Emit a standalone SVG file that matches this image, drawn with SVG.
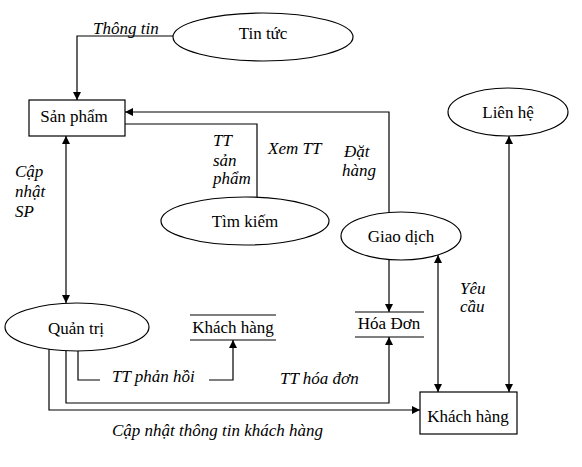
<svg xmlns="http://www.w3.org/2000/svg" width="582" height="467" viewBox="0 0 582 467">
<style>
.shape{fill:#fff;stroke:#000;stroke-width:1.2}
.ln{fill:none;stroke:#000;stroke-width:1.2}
.t{font-family:"Liberation Serif","Times New Roman",serif;font-size:17px;fill:#000}
.c{text-anchor:middle}
.i{font-style:italic}
</style>
<defs>
<marker id="ah" viewBox="0 0 10 10" refX="10" refY="5" markerWidth="9" markerHeight="8" markerUnits="userSpaceOnUse" orient="auto-start-reverse">
<path d="M0,0 L10,5 L0,10 z" fill="#000"/>
</marker>
</defs>
<rect width="582" height="467" fill="#fff"/>
<g id="connectors">
<path class="ln" d="M173,36 H77 V100" marker-end="url(#ah)"/>
<path class="ln" d="M389,212 V112 H125" marker-end="url(#ah)"/>
<path class="ln" d="M125,124 H257 V197"/>
<path class="ln" d="M66,136 V303" marker-start="url(#ah)" marker-end="url(#ah)"/>
<path class="ln" d="M389,260 V312" marker-end="url(#ah)"/>
<path class="ln" d="M438,255 V392" marker-start="url(#ah)" marker-end="url(#ah)"/>
<path class="ln" d="M509,136 V392" marker-start="url(#ah)" marker-end="url(#ah)"/>
<path class="ln" d="M78,350 V380 H100"/>
<path class="ln" d="M209,380 H233 V340" marker-end="url(#ah)"/>
<path class="ln" d="M66,351 V403 H389 V337" marker-end="url(#ah)"/>
<path class="ln" d="M49,349 V410 H420" marker-end="url(#ah)"/>
</g>
<g id="labels">
<text class="t i" x="93" y="34">Thông tin</text>
<text class="t i" x="213" y="146">TT</text>
<text class="t i" x="213" y="166">sản</text>
<text class="t i" x="213" y="184">phẩm</text>
<text class="t i" x="268" y="154">Xem TT</text>
<text class="t i" x="344" y="157">Đặt</text>
<text class="t i" x="342" y="176">hàng</text>
<text class="t i" x="15" y="177">Cập</text>
<text class="t i" x="15" y="197">nhật</text>
<text class="t i" x="15" y="217">SP</text>
<text class="t i" x="460" y="294">Yêu</text>
<text class="t i" x="460" y="312">cầu</text>
<text class="t i" x="112" y="382">TT phản hồi</text>
<text class="t i" x="280" y="384">TT hóa đơn</text>
<text class="t i" x="112" y="436">Cập nhật thông tin khách hàng</text>
</g>
<g id="tin-tuc">
<ellipse class="shape" cx="263" cy="37" rx="90" ry="24"/>
<text class="t c" x="263" y="39">Tin tức</text>
</g>
<g id="san-pham">
<rect class="shape" x="29" y="100" width="96" height="36"/>
<text class="t c" x="74" y="122">Sản phẩm</text>
</g>
<g id="tim-kiem">
<ellipse class="shape" cx="245" cy="221" rx="84" ry="24"/>
<text class="t c" x="245" y="227">Tìm kiếm</text>
</g>
<g id="giao-dich">
<ellipse class="shape" cx="401" cy="236" rx="60" ry="24"/>
<text class="t c" x="401" y="242">Giao dịch</text>
</g>
<g id="lien-he">
<ellipse class="shape" cx="508" cy="112" rx="60" ry="24"/>
<text class="t c" x="508" y="118">Liên hệ</text>
</g>
<g id="quan-tri">
<ellipse class="shape" cx="77" cy="327" rx="72" ry="24"/>
<text class="t c" x="76" y="334">Quản trị</text>
</g>
<g id="kho-khach-hang">
<line class="ln" x1="190" y1="315" x2="276" y2="315"/>
<line class="ln" x1="190" y1="340" x2="276" y2="340"/>
<text class="t c" x="233" y="333">Khách hàng</text>
</g>
<g id="hoa-don">
<line class="ln" x1="355" y1="312" x2="424" y2="312"/>
<line class="ln" x1="355" y1="337" x2="424" y2="337"/>
<text class="t c" x="389" y="329">Hóa Đơn</text>
</g>
<g id="khach-hang">
<rect class="shape" x="420" y="392" width="97" height="42"/>
<text class="t c" x="468" y="422">Khách hàng</text>
</g>
</svg>
